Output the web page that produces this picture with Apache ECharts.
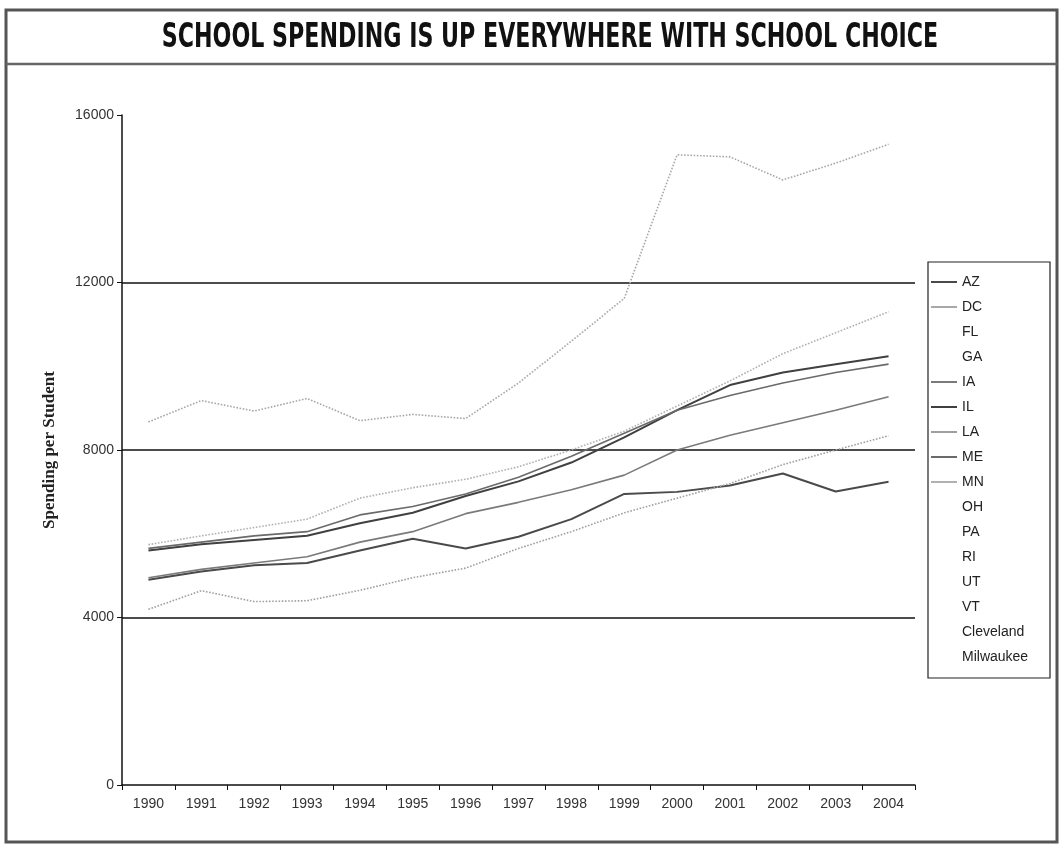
<!DOCTYPE html>
<html>
<head>
<meta charset="utf-8">
<script src="https://cdn.jsdelivr.net/npm/echarts@6/dist/echarts.min.js"></script>
<style>
html,body{margin:0;padding:0;background:#fff;}
#chart{width:1062px;height:850px;}
</style>
</head>
<body>
<div id="chart"></div>
<script>
const years = ['1990','1991','1992','1993','1994','1995','1996','1997','1998','1999','2000','2001','2002','2003','2004'];
const yTicks = [0, 4000, 8000, 12000, 16000];
const gridValues = [4000, 8000, 12000];

const AZ = [4900, 5100, 5250, 5300, 5600, 5880, 5650, 5930, 6350, 6950, 7000, 7150, 7440, 7010, 7240];
const DC = [8670, 9180, 8930, 9230, 8700, 8850, 8750, 9600, 10600, 11620, 15050, 15000, 14450, 14850, 15300];
const IA = [4950, 5150, 5300, 5450, 5800, 6050, 6480, 6750, 7050, 7400, 8000, 8350, 8650, 8950, 9270];
const IL = [5600, 5750, 5850, 5950, 6250, 6500, 6900, 7250, 7700, 8300, 8950, 9550, 9850, 10050, 10240];
const LA = [4195, 4640, 4380, 4400, 4650, 4950, 5180, 5650, 6050, 6500, 6850, 7200, 7650, 8000, 8340];
const ME = [5650, 5800, 5950, 6050, 6450, 6650, 6950, 7350, 7850, 8400, 8950, 9300, 9600, 9850, 10050];
const MN = [5740, 5950, 6150, 6350, 6850, 7100, 7300, 7600, 8000, 8450, 9050, 9650, 10300, 10800, 11300];
const FL = [], GA = [], OH = [], PA = [], RI = [], UT = [], VT = [], Cleveland = [], Milwaukee = [];

const seriesNames = ['AZ','DC','FL','GA','IA','IL','LA','ME','MN','OH','PA','RI','UT','VT','Cleveland','Milwaukee'];
const seriesData = {AZ, DC, FL, GA, IA, IL, LA, ME, MN, OH, PA, RI, UT, VT, Cleveland, Milwaukee};
const styles = {
  AZ: {color:'#4a4a4a', type:'solid', width:2},
  DC: {color:'#a8a8a8', type:'dotted', width:1.6},
  IA: {color:'#7a7a7a', type:'solid', width:1.6},
  IL: {color:'#404040', type:'solid', width:2},
  LA: {color:'#a0a0a0', type:'dotted', width:1.6},
  ME: {color:'#6a6a6a', type:'solid', width:1.6},
  MN: {color:'#b0b0b0', type:'dotted', width:1.6}
};

const chart = echarts.init(document.getElementById('chart'), null, {renderer:'canvas'});

const series = seriesNames.map((name, i) => {
  const st = styles[name] || {color:'#ffffff', type:'solid', width:1};
  const s = {
    name: name,
    type: 'line',
    data: seriesData[name],
    symbol: 'none',
    showSymbol: false,
    smooth: false,
    color: st.color,
    lineStyle: {color: st.color, type: st.type, width: st.width},
    z: 3
  };
  if (i === 0) {
    s.markLine = {
      silent: true,
      symbol: 'none',
      label: {show:false},
      lineStyle: {color:'#111', type:'solid', width:1.6},
      data: gridValues.map(v => ({yAxis: v})),
      z: 1
    };
  }
  return s;
});

chart.setOption({
  animation: false,
  backgroundColor: '#fff',
  grid: {left: 122, top: 115, width: 793, height: 670},
  legend: {
    orient: 'vertical',
    left: 931,
    top: 275,
    data: seriesNames,
    icon: 'rect',
    itemWidth: 26,
    itemHeight: 2,
    itemGap: 11,
    padding: 0,
    textStyle: {color:'#222', fontSize:14, fontFamily:'Liberation Sans, Arial, sans-serif', lineHeight:14}
  },
  xAxis: {
    type: 'category',
    data: years,
    boundaryGap: true,
    axisLine: {show:true, lineStyle:{color:'#111', width:1.5}},
    axisTick: {show:true, length:5, inside:false, lineStyle:{color:'#111'}},
    axisLabel: {color:'#333', fontSize:14, margin:12, fontFamily:'Liberation Sans, Arial, sans-serif'},
    splitLine: {show:false}
  },
  yAxis: {
    type: 'value',
    min: yTicks[0],
    max: yTicks[yTicks.length-1],
    interval: 4000,
    name: 'Spending per Student',
    nameLocation: 'middle',
    nameGap: 64,
    nameRotate: 90,
    nameTextStyle: {color:'#222', fontSize:17, fontWeight:'bold', fontFamily:'Liberation Serif, Times New Roman, serif'},
    axisLine: {show:true, lineStyle:{color:'#111', width:1.5}},
    axisTick: {show:true, length:5, inside:false, lineStyle:{color:'#111'}},
    axisLabel: {color:'#333', fontSize:14, margin:8, fontFamily:'Liberation Sans, Arial, sans-serif', formatter: v => String(v)},
    splitLine: {show:false}
  },
  graphic: [
    {type:'rect', shape:{x:6, y:10, width:1051, height:832}, style:{fill:'none', stroke:'#555', lineWidth:3}, z:0, silent:true},
    {type:'line', shape:{x1:6, y1:64, x2:1057, y2:64}, style:{stroke:'#666', lineWidth:2.5}, silent:true},
    {type:'rect', shape:{x:928, y:262, width:122, height:416}, style:{fill:'none', stroke:'#222', lineWidth:1.2}, silent:true},
    {type:'text', x:550, y:38, scaleX:0.725,
      style:{text:'SCHOOL SPENDING IS UP EVERYWHERE WITH SCHOOL CHOICE', font:'bold 34px "Liberation Sans Narrow", "DejaVu Sans Condensed", sans-serif', fill:'#111', textAlign:'center', textVerticalAlign:'middle'},
      silent:true}
  ],
  series: series
});
</script>
</body>
</html>
